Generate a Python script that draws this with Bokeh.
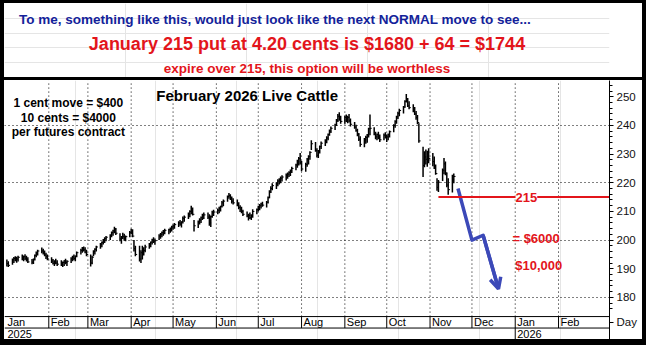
import pandas as pd
from bokeh.plotting import figure
from bokeh.models import Range1d, FixedTicker, Span, Label, Arrow, OpenHead, Div, ColumnDataSource
from bokeh.layouts import row, column
from bokeh.embed import file_html
from bokeh.resources import INLINE
from bokeh.core.properties import value

# ---------------- data ----------------
first_session = "2025-01-02"

highs = [193.2, 192.6,
    193.6, 194.1, 194.4, 194.2, 194.5,
    195.0, 194.6, 195.1, 194.5, 194.0,
    193.4, 193.6, 195.0, 196.0, 196.6,
    197.4, 197.0, 196.4, 195.6, 195.0,
    194.0, 193.4, 193.0, 193.5, 193.0,
    193.0, 192.5, 193.0, 193.5, 193.0,
    194.0, 194.5, 195.0, 194.6, 196.0,
    197.0, 197.6, 197.8, 197.5, 196.6,
    195.0, 194.5, 196.5, 197.2, 198.0,
    199.0, 199.5, 200.4, 201.0, 201.4,
    202.0, 203.0, 203.6, 204.7, 204.2,
    202.4, 201.4, 202.6, 202.2, 201.6,
    203.2, 204.0, 203.8, 200.0, 198.0,
    198.0, 196.5, 198.0, 197.5, 198.4,
    199.0, 199.5, 200.5, 201.0, 200.6,
    202.0, 202.5, 203.0, 203.5, 204.0,
    204.0, 204.4, 205.0, 205.4, 206.0,
    206.6, 207.0, 206.6, 208.2, 208.6,
    209.6, 210.4, 212.0, 211.4, 207.0,
    206.8, 207.6, 208.2, 209.2, 209.6,
    209.6, 209.0, 208.6, 210.2, 210.6,
    211.0, 211.6, 212.0, 213.6, 214.2,
    215.6, 216.4, 216.0, 215.2, 214.6,
    214.2, 213.2, 212.2, 211.6, 210.6,
    210.0, 209.2, 209.6, 209.0, 210.8,
    211.0, 212.0, 212.6, 213.0, 213.4,
    213.6, 215.2, 217.4, 218.8, 219.8,
    220.2, 221.2, 221.6, 222.2, 222.6,
    223.2, 223.6, 224.0, 224.6, 225.6,
    226.6, 228.0, 229.0, 230.4, 227.6,
    227.0, 228.6, 229.6, 231.0, 234.8,
    234.2, 232.0, 231.4, 233.0, 234.4,
    235.2, 236.2, 237.2, 238.6, 239.6,
    240.6, 242.2, 244.0, 244.6, 243.4,
    243.4, 243.8, 243.4, 244.0, 242.4,
    241.2, 240.2, 238.8, 237.4, 236.2,
    235.6, 236.4, 237.0, 239.2, 243.8,
    239.4, 237.8, 237.2, 237.8, 236.8,
    237.2, 237.6, 236.8, 237.2, 238.2,
    240.4, 241.8, 243.4, 244.8, 245.8,
    246.8, 248.8, 251.0, 249.6, 248.4,
    247.4, 246.4, 245.0, 243.6, 240.8,
    232.6, 231.0, 231.6, 231.2, 232.0,
    230.4, 229.2, 226.4, 221.6, 221.0,
    225.0, 228.6, 227.4, 223.6, 221.6,
    222.8, 223.2]

lows = [190.8, 190.6,
    191.4, 192.0, 192.6, 192.1, 192.5,
    193.0, 192.6, 193.1, 192.5, 192.0,
    191.6, 191.7, 192.9, 194.0, 194.6,
    195.4, 195.0, 194.4, 193.4, 193.0,
    192.0, 191.5, 191.0, 191.6, 191.0,
    191.0, 190.6, 191.0, 191.6, 191.0,
    192.0, 192.6, 193.0, 192.6, 194.0,
    195.0, 195.6, 196.0, 195.4, 194.4,
    190.8, 191.6, 194.4, 195.0, 196.0,
    197.0, 197.5, 198.5, 199.0, 199.6,
    200.0, 201.0, 201.5, 202.4, 201.8,
    199.6, 198.7, 200.4, 199.8, 199.6,
    201.0, 202.0, 201.0, 196.0, 194.4,
    192.5, 192.0, 193.2, 194.6, 195.8,
    197.0, 197.5, 198.5, 199.0, 198.4,
    200.0, 200.5, 201.0, 201.5, 202.0,
    202.0, 202.6, 203.0, 203.6, 204.0,
    204.6, 205.0, 204.4, 205.8, 206.4,
    207.4, 208.0, 209.0, 208.6, 203.0,
    204.2, 205.4, 206.0, 207.0, 207.4,
    207.4, 205.0, 204.6, 207.8, 208.4,
    209.0, 209.4, 210.0, 211.4, 211.8,
    213.4, 214.4, 214.0, 212.8, 212.4,
    211.8, 210.8, 209.8, 209.4, 208.4,
    208.0, 206.8, 207.4, 207.0, 207.8,
    209.0, 210.0, 210.4, 211.0, 211.6,
    211.4, 212.8, 214.6, 216.4, 217.4,
    217.8, 218.8, 219.4, 219.8, 220.4,
    220.8, 221.4, 222.0, 222.4, 223.4,
    224.4, 225.2, 226.0, 226.4, 224.0,
    223.8, 225.6, 226.4, 228.0, 231.4,
    230.8, 228.8, 228.6, 230.2, 231.8,
    232.8, 233.8, 234.8, 236.4, 237.4,
    238.4, 239.8, 241.2, 241.6, 240.6,
    240.6, 241.2, 240.8, 241.0, 239.6,
    238.8, 237.8, 236.2, 234.6, 232.6,
    232.4, 233.6, 234.0, 235.8, 236.6,
    236.6, 235.2, 234.8, 235.2, 234.2,
    234.8, 235.4, 234.2, 234.8, 235.8,
    237.6, 239.2, 240.6, 242.2, 243.2,
    244.2, 246.2, 248.0, 246.4, 245.6,
    244.6, 243.6, 242.0, 240.4, 234.0,
    222.0, 225.4, 226.4, 225.6, 226.8,
    225.8, 224.8, 222.8, 217.2, 216.8,
    220.6, 223.0, 222.6, 218.4, 215.8,
    216.6, 219.8]

closes = [191.8, 191.2,
    193.1, 193.6, 193.0, 193.4, 194.0,
    193.6, 194.2, 193.7, 193.1, 192.4,
    192.3, 193.3, 194.7, 195.4, 196.2,
    196.2, 195.6, 194.8, 194.2, 193.4,
    192.7, 191.9, 192.6, 192.0, 191.6,
    191.5, 192.2, 192.8, 192.2, 192.6,
    193.4, 194.1, 193.6, 194.4, 195.6,
    196.4, 197.2, 196.6, 195.8, 195.0,
    192.0, 194.0, 196.0, 196.8, 197.6,
    198.6, 199.2, 200.0, 200.6, 201.0,
    201.6, 202.6, 203.2, 203.8, 202.4,
    200.4, 201.0, 201.2, 200.6, 201.2,
    202.6, 202.8, 201.4, 197.0, 195.0,
    193.4, 195.6, 196.6, 196.4, 197.6,
    198.6, 199.3, 200.1, 199.6, 199.8,
    201.4, 202.0, 202.6, 203.0, 203.4,
    203.6, 204.0, 204.6, 205.0, 205.4,
    206.0, 205.6, 206.4, 207.6, 208.0,
    209.0, 210.0, 211.0, 209.0, 205.0,
    206.2, 207.0, 207.8, 208.6, 208.8,
    208.0, 206.0, 208.2, 209.6, 209.8,
    210.4, 211.0, 211.8, 213.0, 213.6,
    215.2, 215.6, 214.6, 213.6, 213.0,
    212.4, 211.4, 210.8, 210.0, 209.0,
    208.4, 208.6, 207.8, 208.6, 210.0,
    210.6, 211.4, 212.0, 212.6, 212.2,
    213.2, 214.8, 216.8, 218.0, 219.0,
    219.6, 220.6, 221.0, 221.6, 222.0,
    222.6, 223.0, 223.6, 224.2, 225.0,
    226.2, 227.4, 228.4, 227.0, 224.8,
    226.4, 228.0, 229.2, 230.6, 233.6,
    231.2, 229.6, 231.0, 232.6, 233.8,
    234.6, 235.6, 236.8, 238.0, 239.0,
    240.2, 241.8, 243.2, 242.4, 241.4,
    242.8, 242.0, 242.8, 241.6, 240.4,
    239.4, 238.2, 236.8, 235.2, 233.4,
    235.0, 235.8, 236.6, 238.8, 239.0,
    237.0, 236.0, 236.8, 235.8, 235.0,
    236.6, 235.8, 236.0, 236.8, 237.8,
    240.0, 241.4, 243.0, 244.2, 245.2,
    246.4, 248.4, 249.0, 246.8, 246.2,
    245.2, 244.0, 242.8, 241.0, 234.6,
    226.0, 229.0, 228.2, 230.0, 228.4,
    227.4, 225.6, 223.2, 218.4, 220.2,
    224.4, 226.6, 223.4, 219.2, 217.6,
    221.0, 222.2]

month_labels = ["Jan", "Feb", "Mar", "Apr", "May", "Jun", "Jul", "Aug",
                "Sep", "Oct", "Nov", "Dec", "Jan", "Feb"]
month_first = "2025-01-01"
year_labels = ["2025", "2026"]
year_starts = ["2025-01-01", "2026-01-01"]

y_ticks = [180, 190, 200, 210, 220, 230, 240, 250]
y_minor = [176, 178, 182, 184, 186, 188, 192, 194, 196, 198, 202, 204, 206, 208,
           212, 214, 216, 218, 222, 224, 226, 228, 232, 234, 236, 238, 242, 244,
           246, 248, 252, 254]
grid_levels = [180, 200, 220, 240]
period_label = "Day"

strike = 215
strike_from = "2025-11-07"
strike_label = "215"
strike_label_at = "2026-01-09"

arrow_dates = ["2025-11-21", "2025-12-01", "2025-12-09", "2025-12-20"]
arrow_values = [218.0, 200.0, 201.7, 183.0]

loss_labels = ["= $6000", "$10,000"]
loss_label_dates = ["2025-12-30", "2026-01-01"]
loss_label_values = [200.7, 191.0]

header_1 = "To me, something like this, would just look like the next NORMAL move to see..."
header_2 = "January 215 put at 4.20 cents is $1680 + 64 = $1744"
header_3 = "expire over 215, this option will be worthless"
chart_title = "February 2026 Live Cattle"
note_lines = ["1 cent move = $400", "10 cents = $4000", "per futures contract"]
note_values = [247.7, 242.7, 237.7]
note_date = "2025-02-15"

# ---------------- helpers ----------------
def ms(d):
    return pd.Timestamp(d).value / 1e6

RED = "#e3151b"
NAVY = "#13229a"
BLUE = "#3c49b8"
FONT = "Liberation Sans"

dates = pd.bdate_range(first_session, periods=len(highs))
tick_len = pd.Timedelta(hours=30)
month_starts = pd.date_range(month_first, periods=len(month_labels), freq="MS")

x_lo = ms("2024-12-31") + 7 * 3600e3
x_hi = ms("2026-03-09") + 12 * 3600e3
y_lo, y_hi = 165.33, 255.67
plot_bottom = 173.33
row_split = 169.33
month_row_mid = 171.33

# ---------------- header ----------------
h = figure(width=638, height=74, x_range=Range1d(0, 1), y_range=Range1d(0, 1),
           x_axis_location=None, y_axis_location=None, toolbar_location=None,
           output_backend="svg", min_border=0)
h.outline_line_color = None
h.background_fill_color = "white"
h.border_fill_color = "white"
h.add_layout(Label(x=0.024, y=0.79, text=header_1, text_align="left", text_baseline="middle",
                   text_font=FONT, text_font_style="bold", text_font_size="13.5px", text_color=NAVY))
h.add_layout(Label(x=0.5, y=0.45, text=header_2, text_align="center", text_baseline="middle",
                   text_font=FONT, text_font_style="bold", text_font_size="18px", text_color=RED))
h.add_layout(Label(x=0.5, y=0.12, text=header_3, text_align="center", text_baseline="middle",
                   text_font=FONT, text_font_style="bold", text_font_size="13.5px", text_color=RED))

# ---------------- chart ----------------
p = figure(width=638, height=259, x_range=Range1d(x_lo, x_hi), y_range=Range1d(y_lo, y_hi),
           x_axis_location=None, y_axis_location="right", toolbar_location=None,
           output_backend="svg", min_border_left=0, min_border_top=0, min_border_bottom=0,
           min_border_right=33)
p.outline_line_color = None
p.background_fill_color = "white"
p.border_fill_color = "white"

ax = p.yaxis[0]
ax.ticker = FixedTicker(ticks=[month_row_mid] + y_ticks, minor_ticks=y_minor)
ax.major_label_overrides = {month_row_mid: period_label}
ax.major_tick_in = 0
ax.major_tick_out = 4
ax.minor_tick_in = 0
ax.minor_tick_out = 3
ax.axis_line_color = "black"
ax.major_tick_line_color = "black"
ax.minor_tick_line_color = "black"
ax.major_label_standoff = 3
ax.major_label_text_font = FONT
ax.major_label_text_font_size = "11.5px"
ax.major_label_text_color = "#111111"

g = p.ygrid[0]
g.axis = None
g.ticker = FixedTicker(ticks=grid_levels)
g.grid_line_color = "black"
g.grid_line_dash = "1 3"
g.grid_line_width = 1

# vertical dotted month lines
p.segment(x0=month_starts[1:], y0=plot_bottom, x1=month_starts[1:], y1=y_hi,
          line_color="black", line_dash="1 3", line_width=1)

# axis rows
p.add_layout(Span(location=plot_bottom, dimension="width", line_color="black", line_width=1))
p.add_layout(Span(location=row_split, dimension="width", line_color="black", line_width=1))
p.segment(x0=month_starts[1:], y0=row_split, x1=month_starts[1:], y1=plot_bottom,
          line_color="black", line_width=1)
ys = pd.to_datetime(year_starts)
p.segment(x0=ys[1:], y0=y_lo, x1=ys[1:], y1=row_split, line_color="black", line_width=1)

msrc = ColumnDataSource(dict(x=month_starts, label=month_labels))
p.text(x="x", y=month_row_mid, text="label", source=msrc, x_offset=2,
       text_align="left", text_baseline="middle", text_font=value(FONT),
       text_font_size="11px", text_color="black")
ysrc = ColumnDataSource(dict(x=ys, label=year_labels))
p.text(x="x", y=(y_lo + row_split) / 2, text="label", source=ysrc, x_offset=2,
       text_align="left", text_baseline="middle", text_font=value(FONT),
       text_font_size="11px", text_color="black")

# price bars
src = ColumnDataSource(dict(d=dates, d2=dates + tick_len, h=highs, l=lows, c=closes))
p.segment(x0="d", y0="l", x1="d", y1="h", source=src, line_color="black", line_width=1.5)
p.segment(x0="d", y0="c", x1="d2", y1="c", source=src, line_color="black", line_width=1)

# arrow
ad = pd.to_datetime(arrow_dates)
p.line(x=ad, y=arrow_values, line_color=BLUE, line_width=3.5, line_join="round")
p.add_layout(Arrow(end=OpenHead(size=11, line_color=BLUE, line_width=3.5),
                   x_start=ms(ad[-2]), y_start=arrow_values[-2],
                   x_end=ms(ad[-1]), y_end=arrow_values[-1],
                   line_color=BLUE, line_width=3.5))

# strike line
p.segment(x0=[pd.Timestamp(strike_from)], y0=[strike], x1=[x_hi], y1=[strike],
          line_color=RED, line_width=2)
p.add_layout(Label(x=ms(strike_label_at), y=strike, text=strike_label, text_align="center",
                   text_baseline="middle", text_font=FONT, text_font_style="bold",
                   text_font_size="13px", text_color=RED, background_fill_color="white"))
for t, d, v in zip(loss_labels, loss_label_dates, loss_label_values):
    p.add_layout(Label(x=ms(d), y=v, text=t, text_align="left", text_baseline="middle",
                       text_font=FONT, text_font_style="bold", text_font_size="13px",
                       text_color=RED))

# titles / notes
p.add_layout(Label(x=ms("2025-06-23"), y=250.3, text=chart_title, text_align="center",
                   text_baseline="middle", text_font=FONT, text_font_style="bold",
                   text_font_size="15px", text_color="black"))
for t, v in zip(note_lines, note_values):
    p.add_layout(Label(x=ms(note_date), y=v, text=t, text_align="center", text_baseline="middle",
                       text_font=FONT, text_font_style="bold", text_font_size="12px",
                       text_color="black"))

# ---------------- frame borders ----------------
def bar(w, hgt):
    return Div(width=w, height=hgt, margin=0, styles={"background-color": "black"})

inner = column(bar(638, 3), h, bar(638, 3), p, bar(638, 6), spacing=0)
layout = row(bar(4, 345), inner, bar(4, 345), spacing=0)

open("out.html", "w").write(file_html(layout, INLINE))
